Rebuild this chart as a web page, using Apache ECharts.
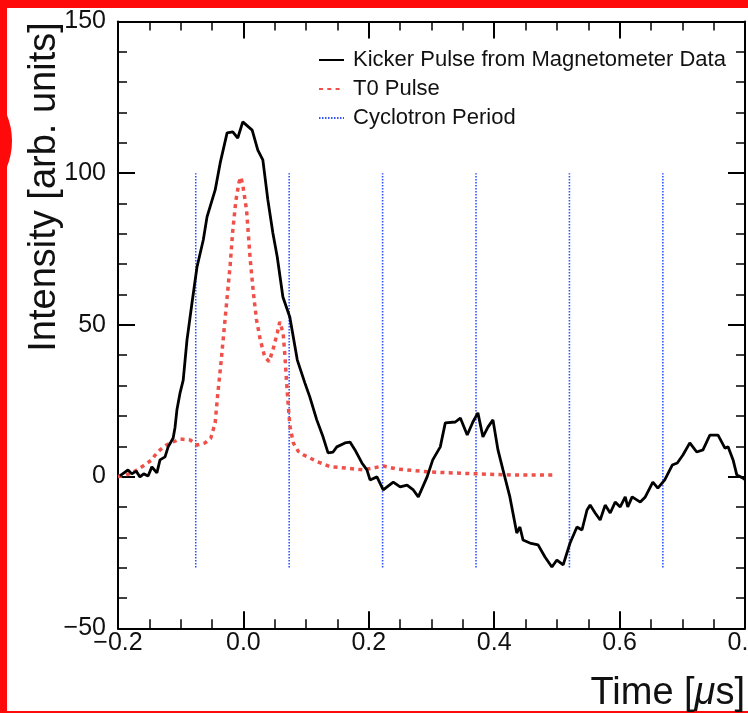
<!DOCTYPE html>
<html><head><meta charset="utf-8">
<script src="https://cdn.jsdelivr.net/npm/echarts@6/dist/echarts.min.js"></script>
<style>html,body{margin:0;padding:0;background:#fff}#c{width:748px;height:713px}</style>
</head><body><div id="c"></div>
<script>
// ---- data ----
const kickerTime = [-0.197,-0.184,-0.178,-0.171,-0.165,-0.159,-0.152,-0.146,-0.138,-0.133,-0.125,-0.120,-0.112,-0.109,-0.106,-0.101,-0.096,-0.090,-0.082,-0.074,-0.064,-0.058,-0.045,-0.037,-0.026,-0.017,-0.009,-0.001,0.014,0.023,0.031,0.039,0.047,0.054,0.063,0.074,0.086,0.098,0.106,0.117,0.127,0.135,0.143,0.149,0.162,0.170,0.178,0.189,0.197,0.202,0.213,0.223,0.239,0.250,0.261,0.271,0.279,0.293,0.302,0.314,0.322,0.338,0.346,0.357,0.366,0.374,0.382,0.390,0.398,0.406,0.414,0.425,0.436,0.441,0.446,0.457,0.470,0.481,0.492,0.500,0.510,0.521,0.532,0.540,0.548,0.553,0.561,0.569,0.577,0.585,0.593,0.601,0.609,0.613,0.620,0.633,0.641,0.653,0.661,0.672,0.684,0.692,0.701,0.712,0.723,0.733,0.744,0.757,0.768,0.773,0.781,0.787,0.797,0.800];
const kickerIntensity = [0.2,2.2,0.9,1.8,-0.1,0.9,0.2,3.2,1.2,5.5,6.5,9.8,12.7,16.3,22.0,27.6,31.8,45.0,57.2,69.1,78.0,85.6,94.5,103.4,113.3,113.6,111.6,116.9,114.2,107.6,104.4,91.2,80.3,72.4,59.2,52.6,38.4,30.9,26.2,18.7,13.1,7.8,8.1,9.8,11.1,11.4,8.8,4.5,2.2,-1.1,-0.1,-4.4,-1.8,-3.4,-2.8,-4.4,-6.7,-0.1,5.5,9.8,17.7,18.0,19.3,13.7,18.0,21.0,13.1,16.3,18.7,8.8,2.2,-6.7,-18.6,-16.6,-20.9,-21.9,-22.5,-26.5,-29.8,-27.5,-29.1,-21.9,-16.6,-17.6,-11.0,-9.4,-12.0,-14.3,-9.4,-12.0,-8.4,-10.0,-6.7,-10.0,-6.7,-8.4,-6.7,-1.8,-3.8,-1.1,3.8,4.5,7.1,11.1,8.1,8.8,13.7,13.7,9.4,9.8,5.5,0.5,-0.5,-1.0];

const t0Time = [-0.200,-0.190,-0.175,-0.160,-0.146,-0.141,-0.133,-0.123,-0.112,-0.101,-0.085,-0.074,-0.061,-0.052,-0.045,-0.041,-0.036,-0.031,-0.026,-0.021,-0.017,-0.012,-0.007,-0.004,-0.001,0.005,0.011,0.016,0.021,0.027,0.034,0.041,0.047,0.054,0.058,0.0634,0.0663,0.069,0.0716,0.0743,0.0796,0.0876,0.0955,0.117,0.138,0.165,0.191,0.223,0.245,0.298,0.373,0.436,0.497];
const t0Intensity = [0,0.3,1.5,3.5,5.5,7.0,8.8,10.4,11.4,12.4,12.1,10.4,11.1,12.7,17.7,27,37,48,59,70,81,91,97,98.7,96.1,87.9,71.3,60.4,51.6,45.0,39.5,37.9,41.7,47.3,51.0,47.3,39.5,30.9,23.1,16.5,11.1,8.3,7.2,5.0,3.3,2.8,2.2,3.5,2.5,1.5,0.9,0.5,0.5];

const cyclotronTimes = [-0.076, 0.073, 0.222, 0.371, 0.520, 0.669];
const cyclotronLow = -30;
const cyclotronHigh = 100;

const seriesNames = ['Kicker Pulse from Magnetometer Data', 'T0 Pulse', 'Cyclotron Period'];
const xTitle = 'Time [{mu|\u03bc}s]';
const yTitle = 'Intensity [arb. units]';
const xMin = -0.2, xMax = 0.8, xStep = 0.2;
const yMin = -50, yMax = 150, yStep = 50;

// ---- build ----
const FONT = '"Liberation Sans", Arial, Helvetica, sans-serif';
const pair = (xs, ys) => xs.map((x, i) => [x, ys[i]]);
const cycData = [];
cyclotronTimes.forEach(t => { cycData.push([t, cyclotronLow], [t, cyclotronHigh], [t, '-']); });
const minus = s => String(s).replace('-', '\u2212');

const tickCommon = {
  axisLine: { show: true, onZero: false, lineStyle: { color: '#000', width: 2 } },
  axisTick: { show: true, inside: true, length: 17, lineStyle: { color: '#000', width: 2 } },
  minorTick: { show: true, length: 9, lineStyle: { color: '#000', width: 1.5 } },
  splitLine: { show: false }, minorSplitLine: { show: false }
};

const chart = echarts.init(document.getElementById('c'), null, { renderer: 'canvas' });
chart.setOption({
  animation: false,
  backgroundColor: '#fff',
  textStyle: { fontFamily: FONT },
  grid: { left: 118, right: 3, top: 21.5, bottom: 84.7, containLabel: false, outerBoundsMode: 'none' },
  legend: {
    orient: 'vertical', left: 318, top: 49, padding: 0, itemWidth: 25, itemHeight: 14, itemGap: 7,
    data: seriesNames,
    itemStyle: { opacity: 0 },
    textStyle: { fontFamily: FONT, fontSize: 22, color: '#111', lineHeight: 22, padding: [0, 0, 0, 4] }
  },
  xAxis: [
    Object.assign({}, tickCommon, {
      type: 'value', min: xMin, max: xMax, interval: xStep, position: 'bottom',
      minorTick: Object.assign({}, tickCommon.minorTick, { splitNumber: 4 }),
      axisLabel: { fontSize: 25, color: '#111', fontFamily: FONT, margin: 2,
        formatter: v => minus(v.toFixed(1)) },
      name: xTitle, nameLocation: 'end', nameGap: 0,
      nameTextStyle: { fontSize: 38, color: '#111', fontFamily: FONT, align: 'right', verticalAlign: 'top', padding: [46, 0, 0, 0],
        rich: { mu: { fontSize: 38, fontStyle: 'italic', fontFamily: FONT, color: '#111' } } }
    }),
    Object.assign({}, tickCommon, {
      type: 'value', min: xMin, max: xMax, interval: xStep, position: 'top',
      minorTick: Object.assign({}, tickCommon.minorTick, { splitNumber: 4 }),
      axisLabel: { show: false }
    })
  ],
  yAxis: [
    Object.assign({}, tickCommon, {
      type: 'value', min: yMin, max: yMax, interval: yStep, position: 'left',
      minorTick: Object.assign({}, tickCommon.minorTick, { splitNumber: 5 }),
      axisLabel: { fontSize: 25, color: '#111', fontFamily: FONT, margin: 12,
        formatter: v => minus(v) }
    }),
    Object.assign({}, tickCommon, {
      type: 'value', min: yMin, max: yMax, interval: yStep, position: 'right',
      minorTick: Object.assign({}, tickCommon.minorTick, { splitNumber: 5 }),
      axisLabel: { show: false }
    })
  ],
  series: [
    { name: seriesNames[2], type: 'line', data: cycData, symbol: 'none', showSymbol: false, connectNulls: false,
      lineStyle: { color: '#2f55ff', width: 1.6, type: [1.5, 1.5] }, itemStyle: { color: '#2f55ff' }, z: 1 },
    { name: seriesNames[1], type: 'line', data: pair(t0Time, t0Intensity), symbol: 'none', showSymbol: false,
      lineStyle: { color: '#f0504a', width: 3.5, type: [4, 4.3] }, itemStyle: { color: '#f0504a' }, z: 2 },
    { name: seriesNames[0], type: 'line', data: pair(kickerTime, kickerIntensity), symbol: 'none', showSymbol: false,
      lineStyle: { color: '#000', width: 2.8 }, itemStyle: { color: '#000' }, z: 3 }
  ],
  graphic: [
    { type: 'rect', shape: { x: 0, y: 0, width: 7, height: 713 }, style: { fill: '#ff0a0a' }, silent: true },
    { type: 'rect', shape: { x: 0, y: 0, width: 748, height: 8 }, style: { fill: '#ff0a0a' }, silent: true },
    { type: 'rect', shape: { x: 0, y: 711, width: 748, height: 2 }, style: { fill: '#ff0a0a' }, silent: true },
    { type: 'circle', shape: { cx: -58, cy: 141, r: 70 }, style: { fill: '#ff0a0a' }, silent: true },
    { type: 'text', x: 45, y: 187, rotation: Math.PI / 2, silent: true,
      style: { text: yTitle, fontSize: 38, fontFamily: FONT, fill: '#111', align: 'center', verticalAlign: 'middle' } }
  ]
});
</script></body></html>
